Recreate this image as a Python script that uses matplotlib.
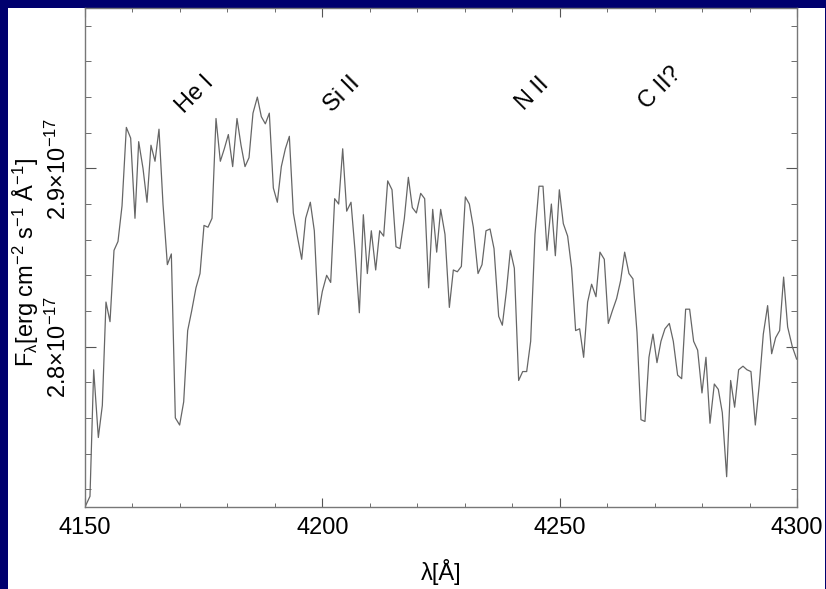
import matplotlib
matplotlib.use('Agg')
import matplotlib.pyplot as plt
from matplotlib.patches import Rectangle
from matplotlib.ticker import MultipleLocator

plt.rcParams['font.family'] = ['Liberation Sans', 'DejaVu Sans']
plt.rcParams['mathtext.fontset'] = 'custom'
plt.rcParams['mathtext.rm'] = 'Liberation Sans'
plt.rcParams['mathtext.it'] = 'Liberation Sans:italic'
plt.rcParams['mathtext.default'] = 'regular'

# wavelength [A]
lam = [4150.0, 4151.05, 4151.83, 4152.81, 4153.65, 4154.42, 4155.27, 4156.11, 4156.95, 4157.80,
       4158.71, 4159.62, 4160.53, 4161.31, 4162.22, 4163.06, 4163.90, 4164.75, 4165.59, 4166.43,
       4167.35, 4168.19, 4169.03, 4169.94, 4170.79, 4171.63, 4172.47, 4173.38, 4174.23, 4175.07,
       4175.91, 4176.76, 4177.60, 4178.51, 4179.35, 4180.20, 4181.11, 4182.02, 4182.87, 4183.71,
       4184.55, 4185.39, 4186.31, 4187.15, 4187.99, 4188.83, 4189.68, 4190.52, 4191.36, 4192.21,
       4193.05, 4193.89, 4194.80, 4195.65, 4196.49, 4197.47, 4198.31, 4199.16, 4200.00, 4200.91,
       4201.76, 4202.60, 4203.44, 4204.29, 4205.13, 4206.04, 4206.88, 4207.80, 4208.64, 4209.48,
       4210.32, 4211.24, 4212.08, 4212.92, 4213.77, 4214.68, 4215.52, 4216.36, 4217.28, 4218.12,
       4218.96, 4219.81, 4220.72, 4221.56, 4222.40, 4223.25, 4224.09, 4224.93, 4225.84, 4226.76,
       4227.60, 4228.44, 4229.29, 4230.13, 4230.97, 4231.81, 4232.80, 4233.64, 4234.48, 4235.33,
       4236.17, 4237.15, 4237.92, 4238.77, 4239.61, 4240.45, 4241.36, 4242.21, 4243.05, 4243.89,
       4244.80, 4245.65, 4246.49, 4247.33, 4248.25, 4249.09, 4249.93, 4250.77, 4251.68, 4252.52,
       4253.36, 4254.21, 4255.05, 4255.89, 4256.73, 4257.65, 4258.49, 4259.40, 4260.25, 4261.09,
       4262.00, 4262.84, 4263.69, 4264.60, 4265.44, 4266.29, 4267.13, 4267.97, 4268.81, 4269.66,
       4270.50, 4271.34, 4272.18, 4273.10, 4273.94, 4274.85, 4275.70, 4276.54, 4277.38, 4278.22,
       4279.07, 4279.98, 4280.82, 4281.67, 4282.58, 4283.42, 4284.26, 4285.18, 4286.02, 4286.86,
       4287.70, 4288.62, 4289.46, 4290.30, 4291.22, 4292.06, 4292.90, 4293.81, 4294.66, 4295.50,
       4296.34, 4297.18, 4298.03, 4299.01, 4299.92]

# flux in units of 1e-17 erg cm^-2 s^-1 A^-1
flux = [2.710, 2.716, 2.787, 2.749, 2.767, 2.825, 2.814, 2.854, 2.859, 2.879,
        2.923, 2.917, 2.872, 2.915, 2.900, 2.881, 2.913, 2.904, 2.922, 2.880,
        2.846, 2.852, 2.760, 2.756, 2.769, 2.809, 2.820, 2.833, 2.841, 2.868,
        2.867, 2.872, 2.928, 2.904, 2.911, 2.919, 2.901, 2.928, 2.913, 2.901,
        2.906, 2.931, 2.940, 2.929, 2.925, 2.931, 2.889, 2.881, 2.901, 2.911,
        2.918, 2.875, 2.861, 2.849, 2.872, 2.881, 2.865, 2.818, 2.831, 2.840,
        2.836, 2.883, 2.880, 2.911, 2.876, 2.881, 2.854, 2.819, 2.874, 2.841,
        2.865, 2.843, 2.865, 2.862, 2.893, 2.888, 2.856, 2.855, 2.872, 2.895,
        2.878, 2.875, 2.886, 2.883, 2.833, 2.877, 2.853, 2.877, 2.863, 2.822,
        2.843, 2.842, 2.845, 2.884, 2.880, 2.867, 2.841, 2.846, 2.865, 2.866,
        2.855, 2.817, 2.812, 2.831, 2.854, 2.844, 2.781, 2.786, 2.786, 2.803,
        2.863, 2.890, 2.890, 2.854, 2.880, 2.851, 2.888, 2.869, 2.862, 2.844,
        2.809, 2.810, 2.794, 2.825, 2.835, 2.828, 2.853, 2.849, 2.813, 2.820,
        2.827, 2.837, 2.853, 2.841, 2.838, 2.808, 2.759, 2.758, 2.794, 2.807,
        2.791, 2.803, 2.810, 2.813, 2.803, 2.784, 2.782, 2.821, 2.821, 2.803,
        2.798, 2.774, 2.794, 2.757, 2.779, 2.776, 2.763, 2.727, 2.781, 2.766,
        2.787, 2.789, 2.787, 2.786, 2.756, 2.779, 2.807, 2.823, 2.796, 2.805,
        2.809, 2.839, 2.811, 2.800, 2.793]

# line identifications
line_names = ['He I', 'Si II', 'N II', 'C II?']
line_x = [4173.2, 4204.1, 4244.4, 4271.3]
line_y = [2.9416, 2.9416, 2.9416, 2.945]

yticks = [2.8, 2.9]
ytick_labels = ['2.8×10$^{-17}$', '2.9×10$^{-17}$']

fig = plt.figure(figsize=(8.26, 5.89), dpi=100, facecolor='#00006e')
fig.add_artist(Rectangle((8 / 826, 0), 817 / 826, 581 / 589, transform=fig.transFigure,
                         facecolor='white', edgecolor='none', zorder=0))
ax = fig.add_axes([85 / 826, 82 / 589, 712 / 826, 499 / 589])

ax.plot(lam, flux, color='#666666', lw=0.9)

for name, x, y in zip(line_names, line_x, line_y):
    ax.text(x, y, name, rotation=45, ha='center', va='center', fontsize=17)

ax.set_xlim(4150, 4300)
ax.set_ylim(2.71, 2.99)
ax.set_xticks([4150, 4200, 4250, 4300])
ax.xaxis.set_minor_locator(MultipleLocator(10))
ax.set_yticks(yticks)
ax.set_yticklabels(ytick_labels, rotation=90, va='center')
ax.yaxis.set_minor_locator(MultipleLocator(0.02))

ax.tick_params(axis='both', which='both', direction='in', top=True, right=True,
               color='#555555', labelsize=17)
ax.tick_params(axis='x', which='major', length=6.5, pad=7)
ax.tick_params(axis='x', which='minor', length=3)
ax.tick_params(axis='y', which='major', length=8, pad=10)
ax.tick_params(axis='y', which='minor', length=4.5)
for s in ax.spines.values():
    s.set_color('#777777')
    s.set_linewidth(1)

ax.set_xlabel('λ[Å]', fontsize=17)
ax.xaxis.set_label_coords(0.5, -0.105)
ax.set_ylabel('F$_{λ}$[erg cm$^{-2}$ s$^{-1}$ Å$^{-1}$]', fontsize=17)
ax.yaxis.set_label_coords(-0.062, 0.49)

fig.savefig('out.png', dpi=100, facecolor=fig.get_facecolor())
